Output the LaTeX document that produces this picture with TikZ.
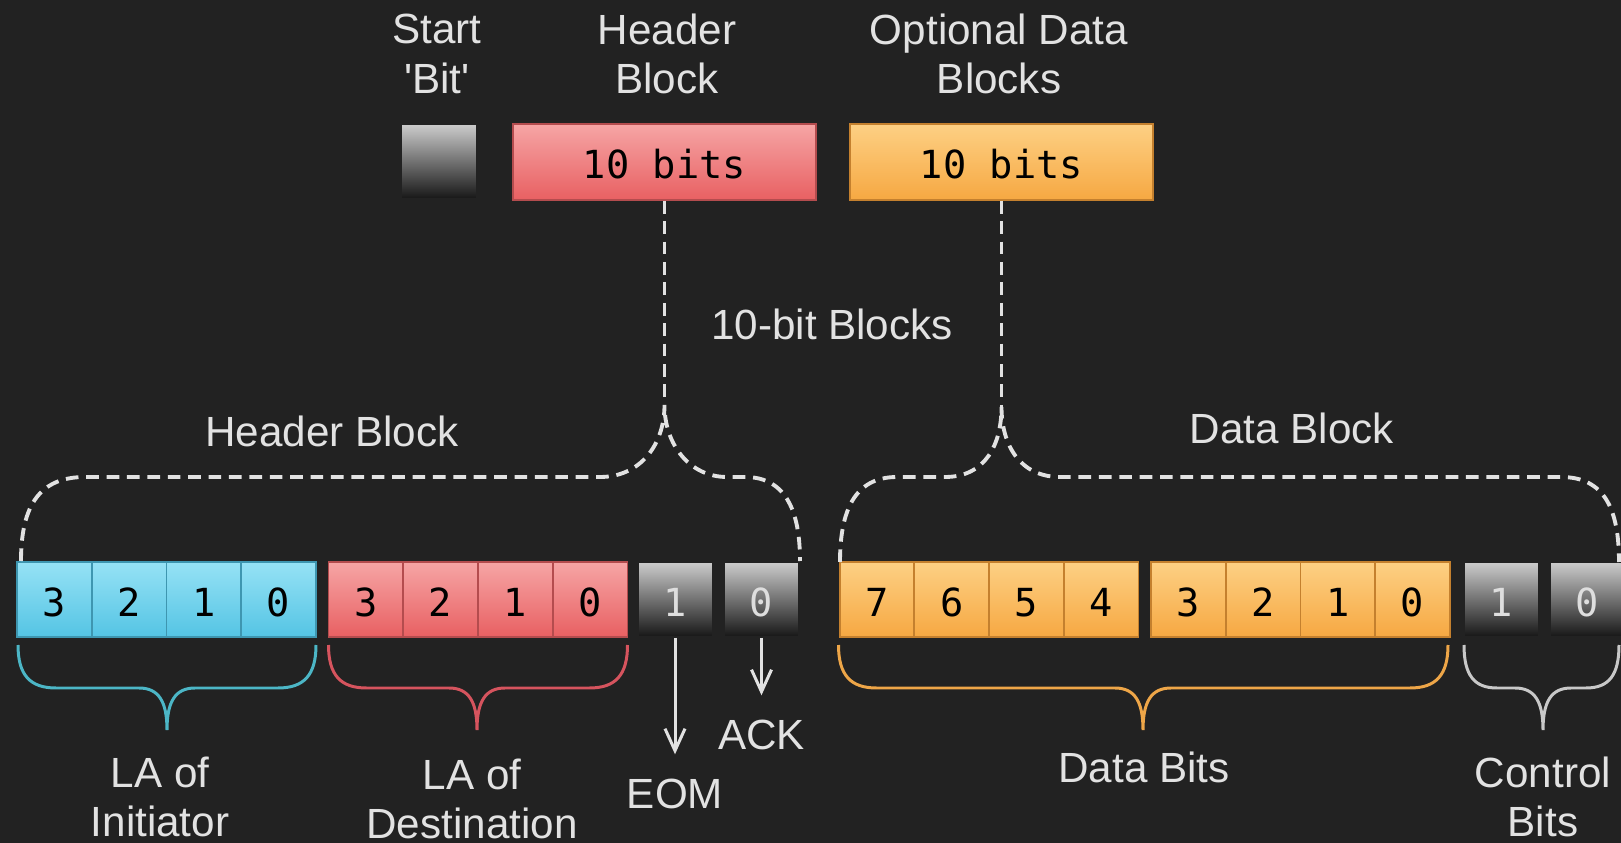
\documentclass[tikz,border=0pt]{standalone}
\usepackage{fontspec}
\setmainfont{Liberation Sans}
\newfontfamily\bitfont{DejaVu Sans Mono}
\usetikzlibrary{arrows.meta}
\definecolor{backdrop}{RGB}{34,34,34}
\definecolor{labeltext}{RGB}{226,226,226}
\definecolor{cyantop}{RGB}{150,226,245}
\definecolor{cyanbot}{RGB}{84,196,228}
\definecolor{cyanedge}{RGB}{62,150,176}
\definecolor{cyanbrace}{RGB}{76,182,198}
\definecolor{redtop}{RGB}{246,165,165}
\definecolor{redbot}{RGB}{232,96,98}
\definecolor{rededge}{RGB}{180,76,78}
\definecolor{redbrace}{RGB}{214,84,94}
\definecolor{orangetop}{RGB}{253,208,132}
\definecolor{orangebot}{RGB}{246,168,66}
\definecolor{orangeedge}{RGB}{196,128,46}
\definecolor{orangebrace}{RGB}{238,166,72}
\definecolor{greytop}{RGB}{205,205,205}
\definecolor{greybot}{RGB}{22,22,22}
\definecolor{greytext}{RGB}{222,222,222}
\definecolor{greybrace}{RGB}{200,200,200}

\begin{document}
\begin{tikzpicture}[
 x=0.01cm, y=-0.01cm,
 >={Straight Barb[length=2.2mm,width=2mm]},
 align=center,
 inner sep=1mm,
 caption/.style={text=labeltext,font=\fontsize{12}{14}\selectfont},
 cell/.style={rectangle,line width=0.5pt,minimum width=0.747cm,minimum height=0.75cm,inner sep=0pt,text height=9.4pt,text depth=0pt,font=\bitfont\fontsize{11}{13}\selectfont},
 cyancell/.style={cell,draw=cyanedge,top color=cyantop,bottom color=cyanbot},
 redcell/.style={cell,draw=rededge,top color=redtop,bottom color=redbot},
 orangecell/.style={cell,draw=orangeedge,top color=orangetop,bottom color=orangebot},
 greycell/.style={cell,draw=backdrop,top color=greytop,bottom color=greybot,text=greytext},
 block/.style={minimum width=3.03cm,minimum height=0.76cm},
 dashbrace/.style={draw=labeltext,line width=1.1pt,dash pattern=on 3.6pt off 2.2pt},
 bitbrace/.style={line width=0.85pt},
 pointer/.style={draw=labeltext,line width=0.85pt,->,shorten >=4pt}
]
\useasboundingbox (0,0) rectangle (1621,843);
\fill [backdrop] (0,0) rectangle (1621,843);

% top row
\node (startbit) [greycell,minimum width=0.76cm] at (439,161.5) {};
\node (hdrblk) [redcell,block] at (664.5,162) {10 bits};
\node (datblk) [orangecell,block] at (1001.5,162) {10 bits};
\node (startlbl) [caption] at (437,54) {Start\\\textquotesingle Bit\textquotesingle};
\node (hdrlbl) [caption] at (667,54) {Header\\Block};
\node (datlbl) [caption] at (999,54) {Optional Data\\Blocks};
\node (tenbit) [caption] at (832,324) {10-bit Blocks};
\node (hdrblklbl) [caption] at (332,431) {Header Block};
\node (datblklbl) [caption] at (1292,428) {Data Block};

% header block bits
\node (ia3) [cyancell] at (54.4,599.5) {3};
\node (ia2) [cyancell] at (129.1,599.5) {2};
\node (ia1) [cyancell] at (203.8,599.5) {1};
\node (ia0) [cyancell] at (278.5,599.5) {0};
\node (da3) [redcell] at (365.9,599.5) {3};
\node (da2) [redcell] at (440.6,599.5) {2};
\node (da1) [redcell] at (515.3,599.5) {1};
\node (da0) [redcell] at (590,599.5) {0};
\node (hb1) [greycell] at (675,599.5) {1};
\node (hb0) [greycell] at (761.5,599.5) {0};

% data block bits
\node (db7) [orangecell] at (877,599.5) {7};
\node (db6) [orangecell] at (951.7,599.5) {6};
\node (db5) [orangecell] at (1026.4,599.5) {5};
\node (db4) [orangecell] at (1101.1,599.5) {4};
\node (db3) [orangecell] at (1188.4,599.5) {3};
\node (db2) [orangecell] at (1263.1,599.5) {2};
\node (db1) [orangecell] at (1337.8,599.5) {1};
\node (db0) [orangecell] at (1412.5,599.5) {0};
\node (cb1) [greycell] at (1501,599.5) {1};
\node (cb0) [greycell] at (1587.5,599.5) {0};

% bottom captions
\node (lainit) [caption] at (160,797) {LA of\\Initiator};
\node (ladest) [caption] at (472,799) {LA of\\Destination};
\node (eom) [caption] at (675,794) {EOM};
\node (ack) [caption] at (761.5,735) {ACK};
\node (databits) [caption] at (1144,767) {Data Bits};
\node (ctrlbits) [caption] at (1543,797) {Control\\Bits};

% dashed braces
\coordinate (hdrtip) at (664.5,405);
\coordinate (dattip) at (1001.5,407);
\draw [dashbrace] (hdrblk.south) -- (hdrtip);
\draw [dashbrace] (datblk.south) -- (dattip);
\draw [dashbrace] (21,561) .. controls (21,505) and (40,477) .. (85,477) -- (600,477)
  .. controls (640,477) and (664.5,445) .. (hdrtip)
  .. controls (664.5,445) and (690,477) .. (727,477) -- (745,477)
  .. controls (788,477) and (800,515) .. (800,561);
\draw [dashbrace] (840,562) .. controls (840,510) and (855,477) .. (897,477) -- (945,477)
  .. controls (985,477) and (1001.5,445) .. (dattip)
  .. controls (1001.5,445) and (1020,477) .. (1060,477) -- (1561,477)
  .. controls (1605,477) and (1619,510) .. (1619,562);

% bit braces
\draw [bitbrace,cyanbrace] (18,645) .. controls (18,675) and (30,688) .. (56,688) -- (139,688)
  .. controls (159,688) and (167,702) .. (167,730)
  .. controls (167,702) and (175,688) .. (195,688) -- (278,688)
  .. controls (304,688) and (316,675) .. (316,645);
\draw [bitbrace,redbrace] (328.5,645) .. controls (328.5,675) and (340.5,688) .. (366.5,688) -- (449,688)
  .. controls (469,688) and (477,702) .. (477,730)
  .. controls (477,702) and (485,688) .. (505,688) -- (589.5,688)
  .. controls (615.5,688) and (627.5,675) .. (627.5,645);
\draw [bitbrace,orangebrace] (838.5,645) .. controls (838.5,675) and (850.5,688) .. (876.5,688) -- (1115,688)
  .. controls (1135,688) and (1143,702) .. (1143,730)
  .. controls (1143,702) and (1151,688) .. (1171,688) -- (1410,688)
  .. controls (1436,688) and (1448,675) .. (1448,645);
\draw [bitbrace,greybrace] (1464,645) .. controls (1464,675) and (1474,688) .. (1497,688) -- (1515,688)
  .. controls (1535,688) and (1543,702) .. (1543,730)
  .. controls (1543,702) and (1551,688) .. (1571,688) -- (1586,688)
  .. controls (1609,688) and (1619,675) .. (1619,645);

% control bit pointers
\draw [pointer] (hb1.south) -- (eom.north);
\draw [pointer] (hb0.south) -- (ack.north);
\end{tikzpicture}
\end{document}
